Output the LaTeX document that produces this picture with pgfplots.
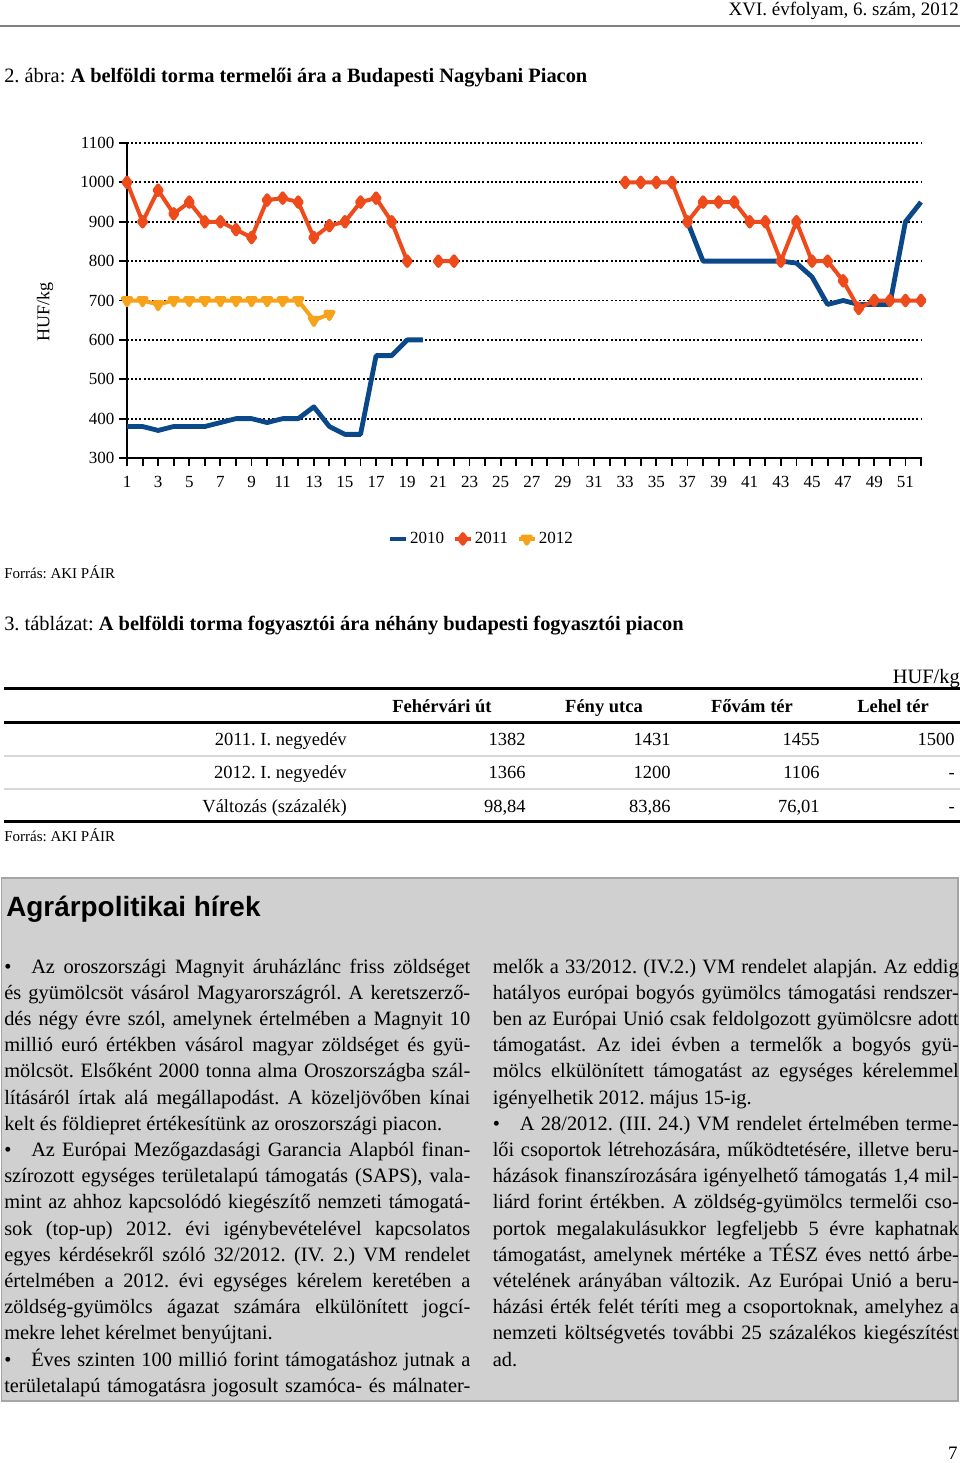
\documentclass[border=0pt]{standalone}
\usepackage{fontspec}
\setmainfont{Liberation Serif}
\newfontfamily\arial{Liberation Sans}
\usepackage{pgfplots}
\pgfplotsset{compat=1.18}
\frenchspacing

\definecolor{c2010}{RGB}{10,72,138}
\definecolor{c2011}{RGB}{238,75,29}
\definecolor{c2012}{RGB}{247,162,27}
\definecolor{rulegray}{RGB}{128,128,128}
\definecolor{rowgray}{RGB}{215,215,215}
\definecolor{boxgray}{RGB}{208,208,208}
\definecolor{boxline}{RGB}{165,165,165}

% sizes are given in pixels of the reference, 1px = 0.75pt
\newcommand\fs[1]{\fontsize{\fpeval{#1*0.75}}{\fpeval{#1*0.9}}\selectfont}
\newlength\px \setlength\px{0.75pt}
\newlength\colw \setlength\colw{349.5pt}
\newcommand\Jl[1]{\hbox to\colw{#1}}
\newcommand\Ll[1]{\hbox to\colw{#1\hfil}}
\newcommand\Bl[1]{\hbox to\colw{\hbox to 27\px{•\hfil}#1}}

\begin{document}
\begin{tikzpicture}
\path[use as bounding box] (0,0) rectangle (720pt,-1097.25pt);

\begin{scope}[x=0.75pt,y=-0.75pt]
  % page header
  \node[anchor=base east,inner sep=0,font=\fs{19}] at (959,16) {XVI. évfolyam, 6. szám, 2012};
  \draw[line width=2pt,rulegray] (0,26) -- (960,26);

  % figure
  \node[anchor=base west,inner sep=0,font=\fs{20.4}] at (4,83) {2. ábra: \textbf{A belföldi torma termelői ára a Budapesti Nagybani Piacon}};
  \node[rotate=90,inner sep=0,font=\fs{18}] at (45,312) {HUF/kg};
  \node[anchor=base west,inner sep=0,font=\fs{15}] at (4,578) {Forrás: AKI PÁIR};

  % table
  \node[anchor=base west,inner sep=0,font=\fs{20.4}] at (4,630) {3. táblázat: \textbf{A belföldi torma fogyasztói ára néhány budapesti fogyasztói piacon}};
  \node[anchor=base east,inner sep=0,font=\fs{20.4}] at (960,683) {HUF/kg};
  \draw[line width=2.4pt] (4,688.5) -- (960,688.5);
  \draw[line width=1.8pt] (4,722.5) -- (960,722.5);
  \draw[line width=1.5pt,rowgray] (4,756) -- (960,756);
  \draw[line width=1.5pt,rowgray] (4,789) -- (960,789);
  \draw[line width=2.6pt] (4,821.5) -- (960,821.5);
  \begin{scope}[every node/.style={inner sep=0,font=\fs{18.5}}]
    \node[anchor=base,font=\fs{18.5}\bfseries] at (442,712) {Fehérvári út};
    \node[anchor=base,font=\fs{18.5}\bfseries] at (604,712) {Fény utca};
    \node[anchor=base,font=\fs{18.5}\bfseries] at (752,712) {Fővám tér};
    \node[anchor=base,font=\fs{18.5}\bfseries] at (893,712) {Lehel tér};
    \node[anchor=base east] at (347,745) {2011. I. negyedév};
    \node[anchor=base east] at (526,745) {1382};
    \node[anchor=base east] at (671,745) {1431};
    \node[anchor=base east] at (820,745) {1455};
    \node[anchor=base east] at (955,745) {1500};
    \node[anchor=base east] at (347,778) {2012. I. negyedév};
    \node[anchor=base east] at (526,778) {1366};
    \node[anchor=base east] at (671,778) {1200};
    \node[anchor=base east] at (820,778) {1106};
    \node[anchor=base east] at (955,778) {-};
    \node[anchor=base east] at (347,812) {Változás (százalék)};
    \node[anchor=base east] at (526,812) {98,84};
    \node[anchor=base east] at (671,812) {83,86};
    \node[anchor=base east] at (820,812) {76,01};
    \node[anchor=base east] at (955,812) {-};
  \end{scope}
  \node[anchor=base west,inner sep=0,font=\fs{15}] at (4,841) {Forrás: AKI PÁIR};

  % news box
  \filldraw[fill=boxgray,draw=boxline,line width=1.2pt] (1.5,878) rectangle (958,1401);
  \node[anchor=base west,inner sep=0,font=\fs{27.9}\arial\bfseries] at (6,916) {Agrárpolitikai hírek};
  \node[anchor=base west,inner sep=0,font=\fs{20.4}] at (4,973) {\vtop{\baselineskip=19.65pt
    \Bl{Az oroszországi Magnyit áruházlánc friss zöldséget}
    \Jl{és gyümölcsöt vásárol Magyarországról. A keretszerző-}
    \Jl{dés négy évre szól, amelynek értelmében a Magnyit 10}
    \Jl{millió euró értékben vásárol magyar zöldséget és gyü-}
    \Jl{mölcsöt. Elsőként 2000 tonna alma Oroszországba szál-}
    \Jl{lításáról írtak alá megállapodást. A közeljövőben kínai}
    \Ll{kelt és földiepret értékesítünk az oroszországi piacon.}
    \Bl{Az Európai Mezőgazdasági Garancia Alapból finan-}
    \Jl{szírozott egységes területalapú támogatás (SAPS), vala-}
    \Jl{mint az ahhoz kapcsolódó kiegészítő nemzeti támogatá-}
    \Jl{sok (top-up) 2012. évi igénybevételével kapcsolatos}
    \Jl{egyes kérdésekről szóló 32/2012. (IV. 2.) VM rendelet}
    \Jl{értelmében a 2012. évi egységes kérelem keretében a}
    \Jl{zöldség-gyümölcs ágazat számára elkülönített jogcí-}
    \Ll{mekre lehet kérelmet benyújtani.}
    \Bl{Éves szinten 100 millió forint támogatáshoz jutnak a}
    \Jl{területalapú támogatásra jogosult szamóca- és málnater-}}};
  \node[anchor=base west,inner sep=0,font=\fs{20.4}] at (492.5,973) {\vtop{\baselineskip=19.65pt
    \Jl{melők a 33/2012. (IV.2.) VM rendelet alapján. Az eddig}
    \Jl{hatályos európai bogyós gyümölcs támogatási rendszer-}
    \Jl{ben az Európai Unió csak feldolgozott gyümölcsre adott}
    \Jl{támogatást. Az idei évben a termelők a bogyós gyü-}
    \Jl{mölcs elkülönített támogatást az egységes kérelemmel}
    \Ll{igényelhetik 2012. május 15-ig.}
    \Bl{A 28/2012. (III. 24.) VM rendelet értelmében terme-}
    \Jl{lői csoportok létrehozására, működtetésére, illetve beru-}
    \Jl{házások finanszírozására igényelhető támogatás 1,4 mil-}
    \Jl{liárd forint értékben. A zöldség-gyümölcs termelői cso-}
    \Jl{portok megalakulásukkor legfeljebb 5 évre kaphatnak}
    \Jl{támogatást, amelynek mértéke a TÉSZ éves nettó árbe-}
    \Jl{vételének arányában változik. Az Európai Unió a beru-}
    \Jl{házási érték felét téríti meg a csoportoknak, amelyhez a}
    \Jl{nemzeti költségvetés további 25 százalékos kiegészítést}
    \Ll{ad.}}};

  % page number
  \node[anchor=base east,inner sep=0,font=\fs{19}] at (958,1459) {7};
\end{scope}

\begin{axis}[
  at={(95.25pt,-343.5pt)}, anchor=south west,
  scale only axis, width=595.5pt, height=236.25pt,
  xmin=1, xmax=52, ymin=300, ymax=1100,
  axis x line*=bottom, axis y line*=left,
  axis line style={line width=1.4pt,-},
  xtick={1,3,...,51}, minor xtick={2,4,...,52},
  ytick={300,400,...,1100},
  tick align=outside, major tick length=6pt, minor tick length=6pt,
  every tick/.style={line width=1.4pt,black},
  ymajorgrids,
  grid style={black,line width=1.4pt,dash pattern=on 1.5pt off 1.6pt},
  ticklabel style={font=\fs{17}},
  xticklabel style={yshift=-4.5pt},
  /pgf/number format/assume math mode=true,
  /pgf/number format/1000 sep={},
  unbounded coords=jump,
  clip=false,
  legend columns=3,
  legend style={at={(0.446,-0.257)}, anchor=center, draw=none, fill=none,
    font=\fs{17}, inner sep=0pt, nodes={inner sep=1.5pt},
    /tikz/every even column/.append style={column sep=5pt}},
  legend image code/.code={\draw[mark repeat=2,mark phase=2]
    plot coordinates {(0cm,0cm) (0.21cm,0cm) (0.42cm,0cm)};},
]
\addplot[c2010, line width=3.6pt, line join=round, no marks] coordinates {
  (1,380) (2,380) (3,370) (4,380) (5,380) (6,380) (7,390) (8,400) (9,400) (10,390)
  (11,400) (12,400) (13,430) (14,380) (15,360) (16,360) (17,560) (18,560) (19,600) (20,600)
  (21,nan)
  (37,900) (38,800) (39,800) (40,800) (41,800) (42,800) (43,800) (44,795) (45,760) (46,690)
  (47,700) (48,690) (49,690) (50,690) (51,900) (52,950)};
\addlegendentry{2010}
\addplot[c2011, line width=3pt, line join=round, mark=diamond*, mark size=3.6pt, mark options={solid}] coordinates {
  (1,1000) (2,900) (3,980) (4,920) (5,950) (6,900) (7,900) (8,880) (9,860) (10,955)
  (11,960) (12,950) (13,860) (14,890) (15,900) (16,950) (17,960) (18,900) (19,800) (20,nan)
  (21,800) (22,800) (23,nan)
  (33,1000) (34,1000) (35,1000) (36,1000) (37,900) (38,950) (39,950) (40,950) (41,900) (42,900)
  (43,800) (44,900) (45,800) (46,800) (47,750) (48,680) (49,700) (50,700) (51,700) (52,700)};
\addlegendentry{2011}
\addplot[c2012, line width=3pt, line join=round, mark=triangle*, mark size=3.6pt, mark options={solid,rotate=180}] coordinates {
  (1,700) (2,700) (3,690) (4,700) (5,700) (6,700) (7,700) (8,700) (9,700) (10,700)
  (11,700) (12,700) (13,650) (14,665)};
\addlegendentry{2012}
\end{axis}
\end{tikzpicture}
\end{document}
